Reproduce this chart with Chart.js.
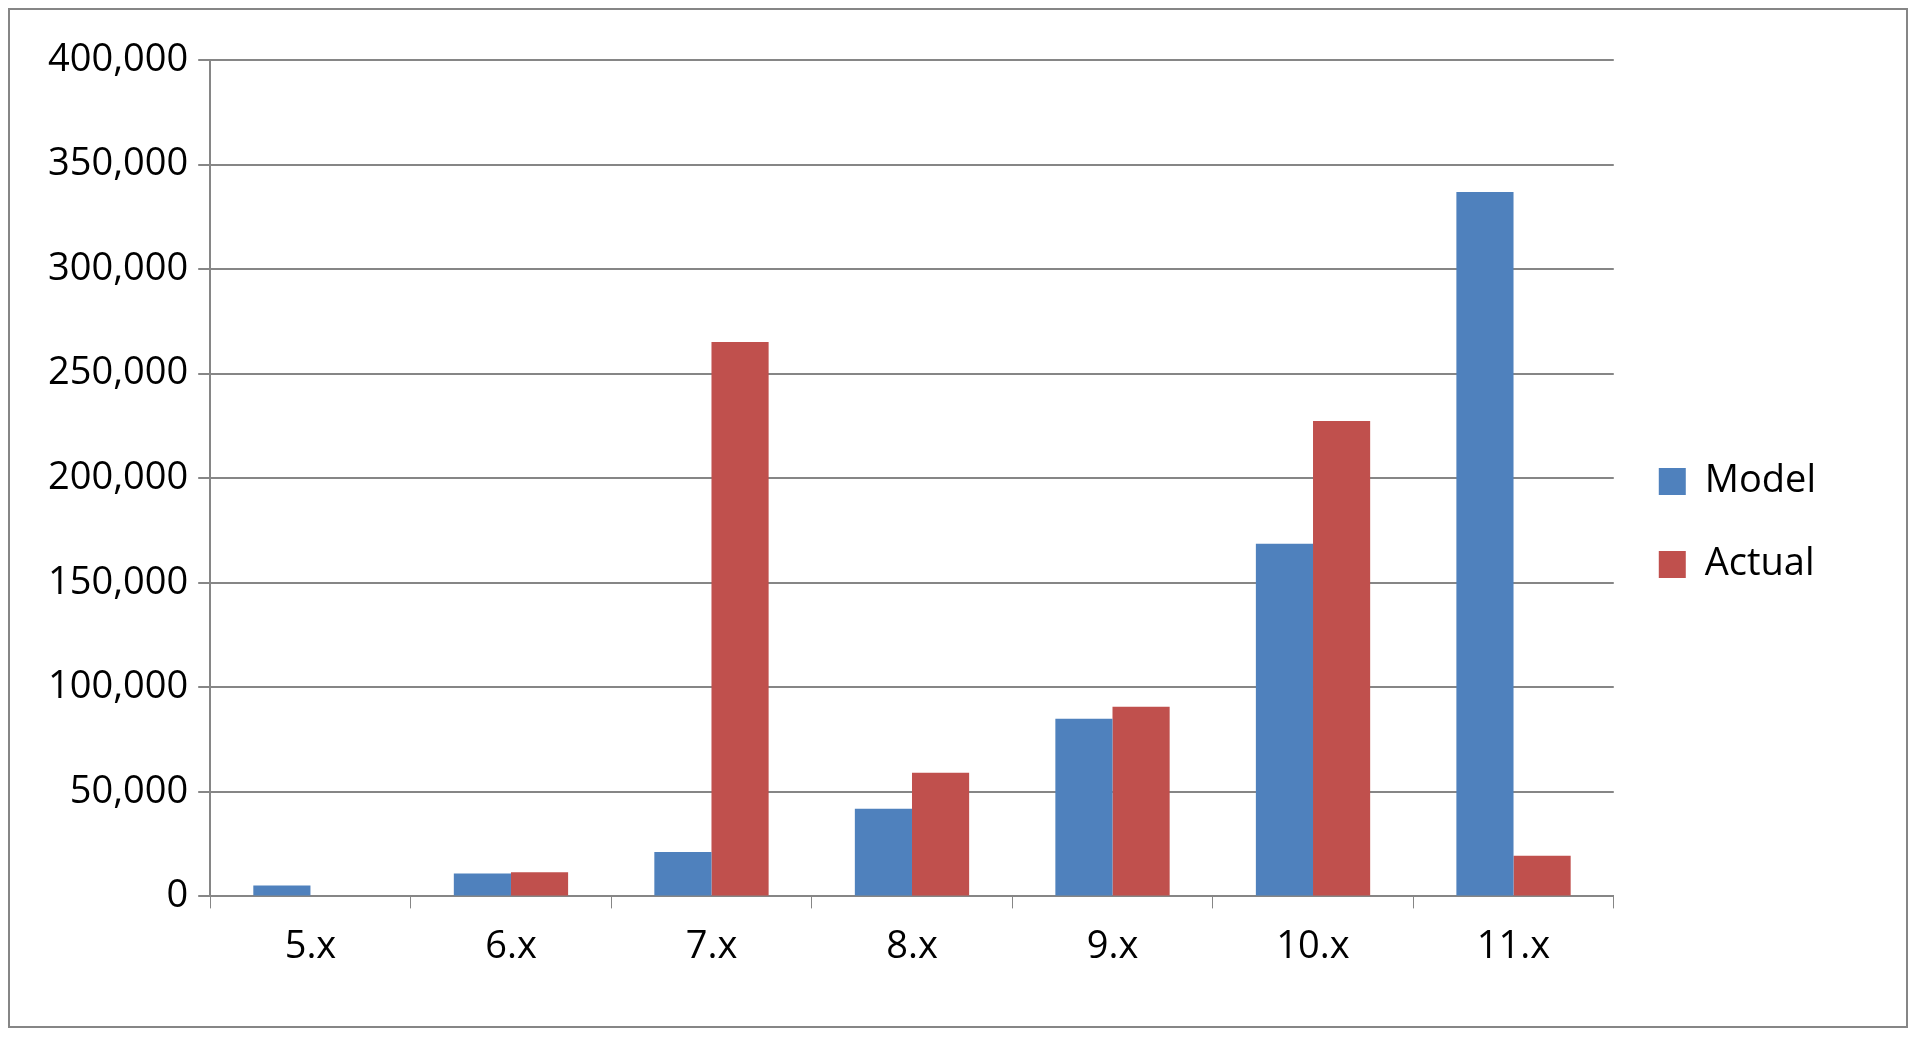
<!DOCTYPE html>
<html>
<head>
<meta charset="utf-8">
<script src="https://cdn.jsdelivr.net/npm/chart.js@4"></script>
<style>
  html, body { margin: 0; background: #fff; }
  #wrap { position: absolute; left: 8px; top: 8px; width: 1900px; height: 1020px;
          border: 2px solid #868686; box-sizing: border-box; }
</style>
</head>
<body>
<div id="wrap"><canvas id="chart"></canvas></div>
<script>
// Chart data
const categories = ['5.x', '6.x', '7.x', '8.x', '9.x', '10.x', '11.x'];
const modelValues = [5200, 10900, 21200, 41900, 84900, 168700, 336900];
const actualValues = [0, 11500, 265100, 59100, 90700, 227300, 19500];

Chart.defaults.font.family = "'Open Sans', 'Liberation Sans', sans-serif";
Chart.defaults.color = '#000';

// push the legend away from the plot area, as in the original
const legendGap = {
    id: 'legendGap',
    beforeInit(chart) {
        const origFit = chart.legend.fit;
        chart.legend.fit = function () {
            origFit.bind(chart.legend)();
            this.width += 50;
        };
    }
};

new Chart(document.getElementById('chart'), {
    type: 'bar',
    data: {
        labels: categories,
        datasets: [
            { label: 'Model', data: modelValues, backgroundColor: '#4f81bd' },
            { label: 'Actual', data: actualValues, backgroundColor: '#c0504d' }
        ]
    },
    options: {
        responsive: true,
        maintainAspectRatio: false,
        animation: false,
        layout: { padding: { top: 50, left: 28, right: 30, bottom: 40 } },
        datasets: { bar: { categoryPercentage: 0.57, barPercentage: 1 } },
        plugins: {
            legend: {
                position: 'right',
                labels: { font: { size: 38 }, boxWidth: 27, boxHeight: 27, padding: 45 }
            },
            tooltip: { enabled: false }
        },
        scales: {
            x: {
                grid: { display: true, drawOnChartArea: false, color: '#868686', tickLength: 12 },
                border: { color: '#868686', width: 2 },
                ticks: { font: { size: 38 }, padding: 16 }
            },
            y: {
                min: 0, max: 400000,
                ticks: {
                    stepSize: 50000, font: { size: 38 }, padding: 10,
                    callback: v => v.toLocaleString('en-US')
                },
                grid: { color: '#868686', lineWidth: 2, tickLength: 12 },
                border: { color: '#868686', width: 2 }
            }
        }
    },
    plugins: [legendGap]
});
</script>
</body>
</html>
